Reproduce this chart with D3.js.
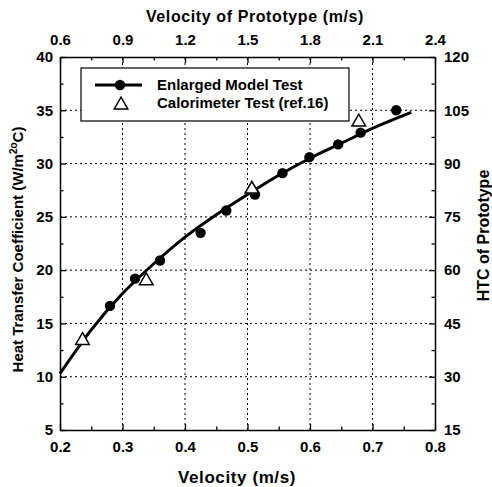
<!DOCTYPE html>
<html>
<head>
<meta charset="utf-8">
<script src="https://cdn.jsdelivr.net/npm/d3@7"></script>
<style>
  html, body { margin: 0; padding: 0; background: #fff; }
  svg { display: block; font-family: "Liberation Sans", Arial, sans-serif; }
  .tick text { font-size: 15px; font-weight: bold; fill: #000; }
  .domain { stroke: #000; stroke-width: 1.5; }
  .tick line { stroke: #000; stroke-width: 1.3; }
</style>
</head>
<body>
<svg id="chart" width="492" height="487"></svg>
<script>
// Enlarged model test (filled circles)
const modelVelocity = [0.28, 0.32, 0.36, 0.425, 0.466, 0.512, 0.556, 0.599, 0.645, 0.681, 0.738];
const modelHTC      = [16.65, 19.2, 20.9, 23.5, 25.6, 27.1, 29.1, 30.6, 31.8, 32.9, 35.0];

// Calorimeter test, ref.16 (open triangles)
const calVelocity = [0.236, 0.338, 0.507, 0.678];
const calHTC      = [13.4, 19.0, 27.6, 33.9];

// Fitted curve through the model data
const fitVelocity = [0.2, 0.25, 0.3, 0.35, 0.4, 0.45, 0.5, 0.55, 0.6, 0.65, 0.7, 0.762];
const fitHTC      = [10.3, 14.4, 17.8, 20.6, 23.1, 25.2, 27.1, 28.9, 30.5, 31.9, 33.3, 34.8];

// Tick values
const bottomTicks = [0.2, 0.3, 0.4, 0.5, 0.6, 0.7, 0.8];
const leftTicks   = [5, 10, 15, 20, 25, 30, 35, 40];
const topTicks    = [0.6, 0.9, 1.2, 1.5, 1.8, 2.1, 2.4];
const rightTicks  = [15, 30, 45, 60, 75, 90, 105, 120];

const legendLabels = ["Enlarged Model Test", "Calorimeter Test (ref.16)"];

const svg = d3.select("#chart");
const L = 60, R = 435, T = 57, B = 430;

const x  = d3.scaleLinear().domain([0.2, 0.8]).range([L, R]);
const y  = d3.scaleLinear().domain([5, 40]).range([B, T]);
const x2 = d3.scaleLinear().domain([0.6, 2.4]).range([L, R]);
const y2 = d3.scaleLinear().domain([15, 120]).range([B, T]);

const mids = (arr) => arr.slice(0, -1).map((v, i) => (v + arr[i + 1]) / 2);

// Dotted grid at the inner major ticks
const grid = svg.append("g").attr("stroke", "#000").attr("stroke-width", 1)
  .attr("stroke-dasharray", "2,3");
bottomTicks.slice(1, -1).forEach(v => {
  grid.append("line").attr("x1", x(v)).attr("x2", x(v)).attr("y1", B).attr("y2", T);
});
leftTicks.slice(1, -1).forEach(v => {
  grid.append("line").attr("x1", L).attr("x2", R).attr("y1", y(v)).attr("y2", y(v));
});

// Axes with inward ticks
function addAxis(axisFn, scale, ticks, transform, fmt, pad) {
  svg.append("g").attr("transform", transform)
    .call(axisFn(scale).tickValues(mids(ticks)).tickSize(-3.5).tickFormat(""))
    .select(".domain").remove();
  svg.append("g").attr("transform", transform)
    .call(axisFn(scale).tickValues(ticks).tickSizeInner(-6).tickSizeOuter(0)
      .tickPadding(pad).tickFormat(fmt));
}
addAxis(d3.axisBottom, x, bottomTicks, `translate(0,${B})`, d3.format(".1f"), 11);
addAxis(d3.axisTop, x2, topTicks, `translate(0,${T})`, d3.format(".1f"), 12);
addAxis(d3.axisLeft, y, leftTicks, `translate(${L},0)`, d3.format("d"), 7);
addAxis(d3.axisRight, y2, rightTicks, `translate(${R},0)`, d3.format("d"), 9);

// Axis titles
svg.append("text").attr("x", 237).attr("y", 483).attr("text-anchor", "middle")
  .attr("font-size", 17).attr("font-weight", "bold").attr("letter-spacing", 0.6)
  .text("Velocity (m/s)");
svg.append("text").attr("x", 255).attr("y", 22).attr("text-anchor", "middle")
  .attr("font-size", 16).attr("font-weight", "bold").attr("letter-spacing", 0.6)
  .text("Velocity of Prototype (m/s)");
const lt = svg.append("text").attr("transform", `translate(23,${(T + B) / 2 + 6}) rotate(-90)`)
  .attr("text-anchor", "middle").attr("font-size", 15).attr("font-weight", "bold");
lt.append("tspan").text("Heat Transfer Coefficient (W/m");
lt.append("tspan").attr("font-size", 10).attr("dy", -6).text("2");
lt.append("tspan").attr("font-size", 10).text("o");
lt.append("tspan").attr("dy", 6).text("C)");
svg.append("text").attr("transform", `translate(489,${(T + B) / 2 - 8}) rotate(-90)`)
  .attr("text-anchor", "middle").attr("font-size", 16).attr("font-weight", "bold")
  .text("HTC of Prototype");

// Fitted curve
const line = d3.line().x((d, i) => x(fitVelocity[i])).y(d => y(d)).curve(d3.curveMonotoneX);
svg.append("path").datum(fitHTC).attr("d", line)
  .attr("fill", "none").attr("stroke", "#000").attr("stroke-width", 3);

// Model points
svg.append("g").selectAll("circle").data(modelHTC).join("circle")
  .attr("cx", (d, i) => x(modelVelocity[i])).attr("cy", d => y(d)).attr("r", 5.2).attr("fill", "#000");

// Calorimeter points
const tri = d3.symbol().type(d3.symbolTriangle).size(80);
svg.append("g").selectAll("path").data(calHTC).join("path")
  .attr("d", tri)
  .attr("transform", (d, i) => `translate(${x(calVelocity[i])},${y(d)})`)
  .attr("fill", "#fff").attr("stroke", "#000").attr("stroke-width", 1.5);

// Legend
const lg = svg.append("g");
lg.append("rect").attr("x", 81).attr("y", 68).attr("width", 268).attr("height", 53)
  .attr("fill", "#fff").attr("stroke", "#000").attr("stroke-width", 1.2);
lg.append("line").attr("x1", 95).attr("x2", 142).attr("y1", 85).attr("y2", 85)
  .attr("stroke", "#000").attr("stroke-width", 3);
lg.append("circle").attr("cx", 120).attr("cy", 85).attr("r", 5.2).attr("fill", "#000");
lg.append("path").attr("d", tri).attr("transform", "translate(121,105)")
  .attr("fill", "#fff").attr("stroke", "#000").attr("stroke-width", 1.5);
legendLabels.forEach((t, i) => {
  lg.append("text").attr("x", 157).attr("y", 90 + i * 18).attr("font-size", 15)
    .attr("font-weight", "bold").text(t);
});
</script>
</body>
</html>
